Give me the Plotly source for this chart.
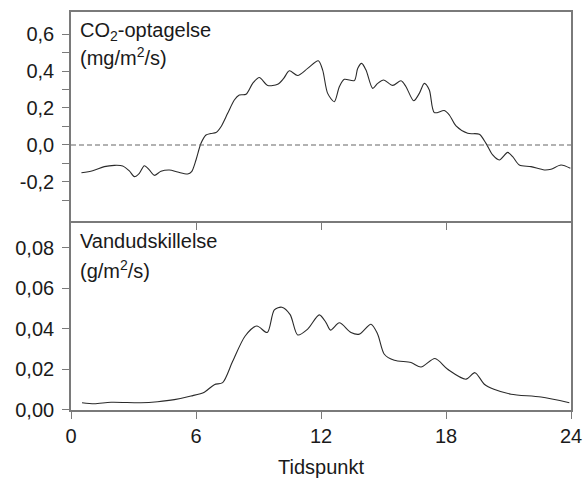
import plotly.graph_objects as go
from plotly.subplots import make_subplots

co2_hours = [0.5, 1.04, 1.6, 2.08, 2.48, 2.8, 3.04, 3.28, 3.52, 3.76, 4.0, 4.32, 4.72, 5.12, 5.6, 5.79,
             6.0, 6.24, 6.48, 6.72, 6.96, 7.2, 7.52, 7.84, 8.08, 8.4, 8.72, 9.04, 9.44, 9.92, 10.21,
             10.48, 10.88, 11.36, 11.87, 12.08, 12.32, 12.64, 12.88, 13.12, 13.6, 13.76, 13.95, 14.16,
             14.48, 14.72, 15.01, 15.44, 15.84, 16.08, 16.45, 16.72, 16.96, 17.2, 17.44, 17.92, 18.16,
             18.48, 19.04, 19.6, 19.92, 20.24, 20.56, 20.96, 21.2, 21.52, 22.08, 22.72, 23.04, 23.52, 23.97]
co2_values = [-0.15, -0.139, -0.117, -0.110, -0.113, -0.14, -0.171, -0.153, -0.112, -0.135, -0.164, -0.142,
              -0.135, -0.146, -0.157, -0.144, -0.081, 0.009, 0.054, 0.062, 0.067, 0.099, 0.171, 0.243,
              0.27, 0.274, 0.333, 0.365, 0.322, 0.328, 0.36, 0.401, 0.376, 0.414, 0.455, 0.405, 0.279,
              0.234, 0.315, 0.355, 0.348, 0.414, 0.441, 0.405, 0.306, 0.333, 0.351, 0.322, 0.347, 0.315,
              0.239, 0.279, 0.333, 0.297, 0.175, 0.186, 0.162, 0.103, 0.063, 0.058, 0.009, -0.054, -0.081,
              -0.04, -0.063, -0.108, -0.117, -0.135, -0.131, -0.108, -0.126]

water_hours = [0.53, 1.12, 1.92, 3.36, 4.16, 4.96, 5.76, 6.4, 6.88, 7.28, 7.76, 8.36, 8.92, 9.42, 9.76,
               10.12, 10.52, 10.88, 11.36, 11.92, 12.24, 12.46, 12.88, 13.44, 13.84, 14.4, 14.72, 15.04,
               15.52, 16.32, 16.8, 17.47, 18.08, 18.96, 19.39, 19.84, 20.3, 21.12, 22.56, 23.92]
water_values = [0.0036, 0.0031, 0.0038, 0.0036, 0.0041, 0.0051, 0.0069, 0.0088, 0.0125, 0.0135, 0.024,
                0.0365, 0.0414, 0.0382, 0.0494, 0.0507, 0.047, 0.037, 0.0399, 0.0469, 0.0431, 0.0394,
                0.043, 0.0382, 0.0374, 0.0423, 0.0374, 0.0275, 0.0245, 0.0234, 0.0212, 0.0254, 0.0201,
                0.0152, 0.0184, 0.0127, 0.0102, 0.0078, 0.0064, 0.0036]

x_ticks = [0, 6, 12, 18, 24]
co2_tickvals = [-0.3, -0.2, -0.1, 0.0, 0.1, 0.2, 0.3, 0.4, 0.5, 0.6]
co2_ticktext = ["", "-0,2", "", "0,0", "", "0,2", "", "0,4", "", "0,6"]
water_tickvals = [0.0, 0.02, 0.04, 0.06, 0.08]
water_ticktext = ["0,00", "0,02", "0,04", "0,06", "0,08"]

FONT = "Liberation Sans, Arial, sans-serif"
AX = "#7a7a7a"
LINE = "#2a2a2a"
TXT = "#1a1a1a"

fig = make_subplots(rows=2, cols=1, shared_xaxes=False, vertical_spacing=0,
                    row_heights=[0.5251, 0.4749])

fig.add_trace(go.Scatter(x=co2_hours, y=co2_values, mode="lines",
                         line=dict(color=LINE, width=1.1, shape="spline", smoothing=0.8),
                         showlegend=False), row=1, col=1)
fig.add_trace(go.Scatter(x=water_hours, y=water_values, mode="lines",
                         line=dict(color=LINE, width=1.1, shape="spline", smoothing=0.8),
                         showlegend=False), row=2, col=1)

common_axis = dict(showline=True, linecolor=AX, linewidth=1.6, showgrid=False, zeroline=False,
                   ticks="outside", ticklen=7, tickwidth=1.3, tickcolor=AX, automargin=False,
                   tickfont=dict(family=FONT, size=20, color=TXT))

fig.update_xaxes(range=[0, 24], tickvals=[6, 12, 18], showticklabels=False, mirror=True,
                 row=1, col=1, **common_axis)
fig.update_xaxes(range=[0, 24], tickvals=x_ticks, ticktext=[str(v) for v in x_ticks],
                 row=2, col=1, **common_axis,
                 title=dict(text="Tidspunkt", font=dict(family=FONT, size=20, color=TXT),
                            standoff=14))
fig.update_yaxes(range=[-0.4108, 0.7189], tickvals=co2_tickvals, ticktext=co2_ticktext,
                 mirror=True, row=1, col=1, ticklabelstandoff=4, **common_axis)
fig.update_yaxes(range=[0, 0.0932], tickvals=water_tickvals, ticktext=water_ticktext,
                 mirror=True, row=2, col=1, ticklabelstandoff=4, **common_axis)

fig.add_shape(type="line", xref="x domain", yref="y", x0=0, x1=1, y0=0, y1=0,
              line=dict(color="#666666", width=1.2, dash="5px,3px"))

labels = [
    ("CO<sub>2</sub>-optagelse", 0.952),
    ("(mg/m<sup>2</sup>/s)", 0.887),
    ("Vandudskillelse", 0.4246),
    ("(g/m<sup>2</sup>/s)", 0.354),
]
for text, ypos in labels:
    fig.add_annotation(xref="paper", yref="paper", x=0.014, y=ypos, xanchor="left",
                       yanchor="middle", align="left", showarrow=False, text=text,
                       font=dict(family=FONT, size=20, color=TXT))

fig.update_layout(width=584, height=486,
                  margin=dict(l=71, r=13, t=12, b=76, autoexpand=False),
                  paper_bgcolor="white", plot_bgcolor="white",
                  font=dict(family=FONT, size=20, color=TXT))

# remove the browser's default 8px body margin so the figure fills the 584x486 window exactly
fig.write_html("out.html", config={"displayModeBar": False},
               post_script="document.body.style.margin='0';document.body.style.overflow='hidden';")
